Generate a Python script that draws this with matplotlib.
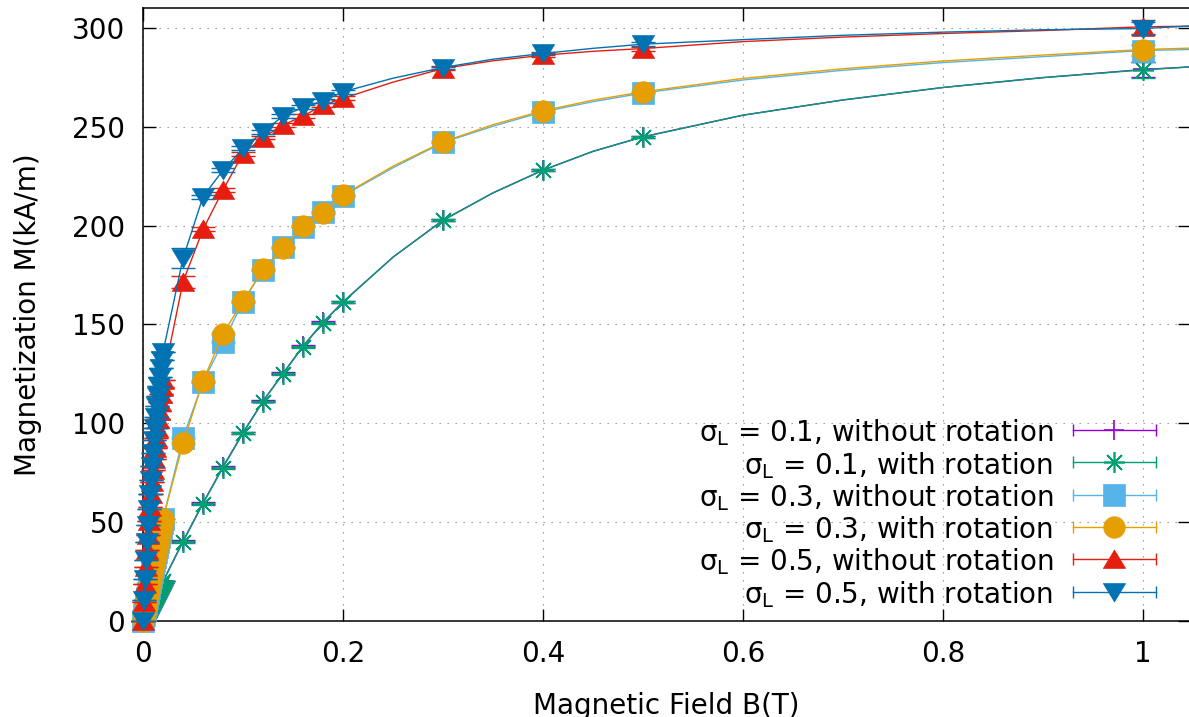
import numpy as np
import matplotlib
matplotlib.use("Agg")
import matplotlib.pyplot as plt

plt.rcParams['font.family'] = ['DejaVu Sans']
plt.rcParams['mathtext.default'] = 'regular'

# low-field points (dense cluster near B = 0)
B_low = [0.000, 0.001, 0.002, 0.003, 0.004, 0.005, 0.006, 0.007, 0.008, 0.009, 0.010,
         0.011, 0.012, 0.013, 0.014, 0.015, 0.016, 0.017, 0.018, 0.019, 0.020]
# regular points
B_main = [0.04, 0.06, 0.08, 0.10, 0.12, 0.14, 0.16, 0.18, 0.20, 0.30, 0.40, 0.50, 1.00]
# extra readings of the fitted curves
B_fit = [0.25, 0.35, 0.45, 0.60, 0.70, 0.80, 0.90, 1.047]

m01_norot_low = [0, 1.0, 2.0, 3.0, 4.0, 5.0, 6.0, 7.0, 8.0, 9.0, 10.0,
                 11.0, 12.0, 13.0, 14.0, 15.0, 16.0, 17.0, 18.0, 19.0, 20.0]
m01_rot_low = [0, 1.0, 2.0, 3.0, 4.0, 5.0, 6.0, 7.0, 8.0, 9.0, 10.0,
               11.0, 12.0, 13.0, 14.0, 15.0, 16.0, 17.0, 18.0, 19.0, 20.0]
m03_norot_low = [0, 2.9, 5.8, 8.6, 11.4, 14.2, 16.9, 19.6, 22.3, 24.9, 27.5,
                 30.1, 32.6, 35.1, 37.6, 40.0, 42.4, 44.8, 47.1, 49.4, 51.7]
m03_rot_low = [0, 2.9, 5.8, 8.6, 11.4, 14.2, 16.9, 19.6, 22.3, 24.9, 27.5,
               30.1, 32.6, 35.1, 37.6, 40.0, 42.4, 44.8, 47.1, 49.4, 51.7]
m05_norot_low = [0, 9.6, 18.8, 27.5, 35.7, 43.5, 50.8, 57.7, 64.1, 70.3, 76.3,
                 82.0, 87.4, 92.5, 97.4, 102.0, 106.4, 110.6, 114.6, 118.5, 122.0]
m05_rot_low = [0, 10.7, 21.0, 30.7, 39.8, 48.5, 56.6, 64.3, 71.5, 78.4, 85.1,
               91.4, 97.5, 103.1, 108.6, 113.7, 118.6, 123.3, 127.8, 132.1, 136.0]

m01_norot = [40.4, 59.6, 78.0, 95.2, 111.2, 125.2, 139.0, 151.0, 161.4, 202.7, 228.0, 244.9, 278.9]
m01_rot = [40.0, 59.4, 77.6, 95.0, 111.0, 125.0, 138.8, 150.8, 161.2, 202.6, 228.0, 244.8, 278.7]
m03_norot = [92.5, 121.0, 141.0, 161.5, 177.5, 189.0, 199.5, 207.0, 215.0, 242.0, 257.5, 267.0, 288.5]
m03_rot = [89.8, 121.3, 145.2, 161.8, 177.8, 188.4, 199.9, 206.4, 215.4, 242.3, 258.0, 267.6, 289.0]
m05_norot = [171.5, 198.0, 217.9, 236.4, 244.5, 250.8, 255.3, 260.9, 264.3, 279.4, 286.1, 289.5, 300.5]
m05_rot = [183.4, 214.5, 228.0, 239.0, 247.4, 255.3, 259.7, 262.9, 267.6, 279.9, 287.0, 291.7, 299.6]

e01_norot = [0.5, 0.5, 0.5, 0.5, 0.5, 0.5, 0.5, 0.5, 0.5, 0.5, 0.5, 0.5, 4.0]
e01_rot = [0.5, 0.5, 0.5, 0.5, 0.5, 0.5, 0.5, 0.5, 0.5, 0.5, 0.5, 0.5, 4.0]
e03_norot = [0.5, 0.5, 0.5, 0.5, 0.5, 0.5, 0.5, 0.5, 0.5, 0.5, 0.5, 0.5, 3.0]
e03_rot = [0.5, 0.5, 0.5, 0.5, 0.5, 0.5, 0.5, 0.5, 0.5, 0.5, 0.5, 0.5, 3.0]
e05_norot = [3.0, 1.0, 1.0, 1.0, 1.0, 1.0, 1.0, 1.0, 1.0, 1.0, 1.0, 1.0, 3.5]
e05_rot = [5.0, 1.0, 1.0, 1.0, 1.0, 1.0, 1.0, 1.0, 1.0, 1.0, 1.0, 1.0, 3.5]

f01_norot = [184.0, 216.5, 237.5, 255.8, 263.5, 269.8, 274.8, 280.2]
f01_rot = [184.0, 216.5, 237.5, 255.8, 263.5, 269.8, 274.8, 280.2]
f03_norot = [229.2, 250.2, 262.6, 273.6, 278.5, 282.4, 285.4, 289.0]
f03_rot = [230.0, 251.0, 263.4, 274.4, 279.3, 283.2, 286.2, 289.7]
f05_norot = [272.5, 283.3, 288.1, 293.0, 295.3, 297.1, 298.6, 300.8]
f05_rot = [274.5, 284.1, 289.6, 294.0, 296.2, 297.8, 299.0, 300.9]

labels = ["σ$_{L}$ = 0.1, without rotation", "σ$_{L}$ = 0.1, with rotation",
          "σ$_{L}$ = 0.3, without rotation", "σ$_{L}$ = 0.3, with rotation",
          "σ$_{L}$ = 0.5, without rotation", "σ$_{L}$ = 0.5, with rotation"]
colors = ["#9400d3", "#009e73", "#56b4e9", "#e69f00", "#e51e10", "#0072b2"]

tri_up = [(-1, -0.8), (1, -0.8), (0, 0.85), (-1, -0.8)]
tri_dn = [(-1, 0.8), (1, 0.8), (0, -0.85), (-1, 0.8)]
markers = ["+", (8, 2, 0), "s", "o", tri_up, tri_dn]
msizes = [14, 15, 16, 15.5, 16, 16]

series = [
    (m01_norot_low, m01_norot, e01_norot, f01_norot),
    (m01_rot_low, m01_rot, e01_rot, f01_rot),
    (m03_norot_low, m03_norot, e03_norot, f03_norot),
    (m03_rot_low, m03_rot, e03_rot, f03_rot),
    (m05_norot_low, m05_norot, e05_norot, f05_norot),
    (m05_rot_low, m05_rot, e05_rot, f05_rot),
]

FS = 20

fig = plt.figure(figsize=(11.89, 7.17), dpi=100)
ax = fig.add_axes([143 / 1189, 96 / 717, 1047 / 1189, 613 / 717])

for i, (low, main, err, fit) in enumerate(series):
    c = colors[i]
    xs = B_low + B_main
    ys = low + main
    yerr = [0.0] * len(low) + err
    eb = ax.errorbar(xs, ys, yerr=yerr, fmt='none', ecolor=c, elinewidth=1,
                     capsize=8.5, capthick=1, zorder=2 + i)
    for art in eb.lines[1] + eb.lines[2]:
        art.set_clip_on(False)
    pts, = ax.plot(xs, ys, linestyle='none', marker=markers[i], ms=msizes[i],
                   color=c, mec=c, mew=1.2 if i < 2 else 0.5, zorder=2 + i)
    pts.set_clip_on(False)
    # fitted curve through points plus extra readings
    cx = np.array(xs + B_fit)
    cy = np.array(ys + fit)
    order = np.argsort(cx)
    ax.plot(cx[order], cy[order], color=c, lw=1.0, zorder=2.5 + i)

ax.set_xlim(0, 1.047)
ax.set_ylim(0, 310)
ax.set_xticks([0, 0.2, 0.4, 0.6, 0.8, 1.0])
ax.set_xticklabels(["0", "0.2", "0.4", "0.6", "0.8", "1"])
ax.set_yticks([0, 50, 100, 150, 200, 250, 300])
ax.tick_params(direction='in', length=9, width=1, labelsize=FS, pad=13,
               top=True, right=True)
ax.tick_params(axis='x', pad=14)
ax.grid(True, color='#909090', linestyle=(0, (1.2, 6)), linewidth=0.8)
ax.set_axisbelow(True)
for s in ax.spines.values():
    s.set_linewidth(1.1)

ax.set_xlabel("Magnetic Field B(T)", fontsize=FS)
ax.set_ylabel("Magnetization M(kA/m)", fontsize=FS)
ax.xaxis.set_label_coords(0.5, (621 - 692) / 613)
ax.yaxis.set_label_coords((42 - 143) / 1047, 0.5)

# gnuplot style key
rows = [430, 462.3, 495, 526.7, 559, 591.7]
for i, py in enumerate(rows):
    yf = (621 - py) / 613
    ax.text((1053 - 143) / 1047, yf - 11.5 / 613, labels[i], ha='right',
            va='baseline', fontsize=FS, transform=ax.transAxes)
    x0, x1, xm = (1073 - 143) / 1047, (1156 - 143) / 1047, (1114 - 143) / 1047
    ax.plot([x0, x1], [yf, yf], color=colors[i], lw=1.0, transform=ax.transAxes)
    ax.plot([x0, x1], [yf, yf], linestyle='none', marker='|', ms=9, mew=1,
            color=colors[i], transform=ax.transAxes)
    ax.plot([xm], [yf], linestyle='none', marker=markers[i], ms=msizes[i],
            color=colors[i], mec=colors[i], mew=1.2 if i < 2 else 0.5,
            transform=ax.transAxes)

fig.savefig("out.png", dpi=100)
